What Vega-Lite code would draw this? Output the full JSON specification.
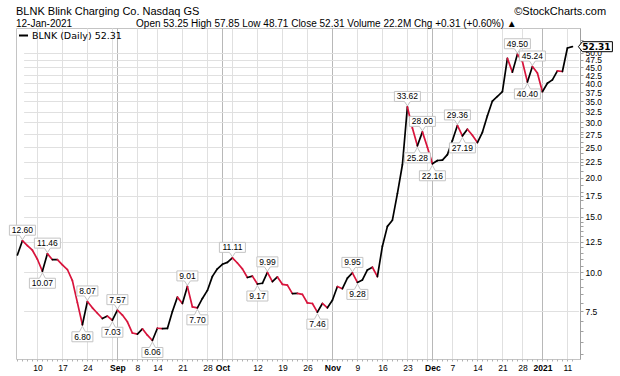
{
  "$schema": "https://vega.github.io/schema/vega-lite/v6.json",
  "autosize": "none",
  "width": 564,
  "height": 331,
  "padding": {"left": 16, "top": 28, "right": 40, "bottom": 17},
  "background": "white",
  "title": {
    "text": "BLNK Blink Charging Co. Nasdaq GS\u00a0\u00a0\u00a0\u00a0\u00a0\u00a0\u00a0\u00a0\u00a0\u00a0\u00a0\u00a0\u00a0\u00a0\u00a0\u00a0\u00a0\u00a0\u00a0\u00a0\u00a0\u00a0\u00a0\u00a0\u00a0\u00a0\u00a0\u00a0\u00a0\u00a0\u00a0\u00a0\u00a0\u00a0\u00a0\u00a0\u00a0\u00a0\u00a0\u00a0\u00a0\u00a0\u00a0\u00a0\u00a0\u00a0\u00a0\u00a0\u00a0\u00a0\u00a0\u00a0\u00a0\u00a0\u00a0\u00a0\u00a0\u00a0\u00a0\u00a0\u00a0\u00a0\u00a0\u00a0\u00a0\u00a0\u00a0\u00a0\u00a0\u00a0\u00a0\u00a0\u00a0\u00a0\u00a0\u00a0\u00a0\u00a0\u00a0\u00a0\u00a0\u00a0\u00a0\u00a0\u00a0\u00a0\u00a0\u00a0\u00a0\u00a0\u00a0\u00a0\u00a0\u00a0\u00a0\u00a0\u00a0\u00a0\u00a0\u00a0\u00a0\u00a0\u00a0©StockCharts.com",
    "subtitle": "12-Jan-2021\u00a0\u00a0\u00a0\u00a0\u00a0\u00a0\u00a0\u00a0\u00a0\u00a0\u00a0\u00a0\u00a0\u00a0\u00a0\u00a0\u00a0\u00a0\u00a0\u00a0\u00a0\u00a0\u00a0Open 53.25 High 57.85 Low 48.71 Close 52.31 Volume 22.2M Chg +0.31 (+0.60%) ▲",
    "anchor": "start",
    "frame": "group",
    "offset": 2,
    "dy": 3,
    "font": "Liberation Sans",
    "fontSize": 11,
    "fontWeight": "normal",
    "color": "black",
    "subtitleFont": "Liberation Sans",
    "subtitleFontSize": 10,
    "subtitleColor": "black",
    "subtitlePadding": 2
  },
  "data": {
    "values": [
      {"date": "2020-08-04", "close": 11.35},
      {"date": "2020-08-05", "close": 12.60, "pivot": "high"},
      {"date": "2020-08-06", "close": 12.15},
      {"date": "2020-08-07", "close": 11.75},
      {"date": "2020-08-10", "close": 11.00},
      {"date": "2020-08-11", "close": 10.07, "pivot": "low"},
      {"date": "2020-08-12", "close": 11.46, "pivot": "high"},
      {"date": "2020-08-13", "close": 10.96},
      {"date": "2020-08-14", "close": 10.97},
      {"date": "2020-08-17", "close": 10.55},
      {"date": "2020-08-18", "close": 10.20},
      {"date": "2020-08-19", "close": 9.40},
      {"date": "2020-08-20", "close": 8.00},
      {"date": "2020-08-21", "close": 6.80, "pivot": "low"},
      {"date": "2020-08-24", "close": 8.07, "pivot": "high"},
      {"date": "2020-08-25", "close": 7.70},
      {"date": "2020-08-26", "close": 7.40},
      {"date": "2020-08-27", "close": 7.12},
      {"date": "2020-08-28", "close": 7.25},
      {"date": "2020-08-31", "close": 7.03, "pivot": "low"},
      {"date": "2020-09-01", "close": 7.57, "pivot": "high"},
      {"date": "2020-09-02", "close": 7.30},
      {"date": "2020-09-03", "close": 6.95},
      {"date": "2020-09-04", "close": 6.40},
      {"date": "2020-09-08", "close": 6.35},
      {"date": "2020-09-09", "close": 6.60},
      {"date": "2020-09-10", "close": 6.30},
      {"date": "2020-09-11", "close": 6.06, "pivot": "low"},
      {"date": "2020-09-14", "close": 6.63},
      {"date": "2020-09-15", "close": 6.61},
      {"date": "2020-09-16", "close": 6.62},
      {"date": "2020-09-17", "close": 7.50},
      {"date": "2020-09-18", "close": 8.33},
      {"date": "2020-09-21", "close": 7.95},
      {"date": "2020-09-22", "close": 9.01, "pivot": "high"},
      {"date": "2020-09-23", "close": 7.75},
      {"date": "2020-09-24", "close": 7.70, "pivot": "low"},
      {"date": "2020-09-25", "close": 8.25},
      {"date": "2020-09-28", "close": 8.75},
      {"date": "2020-09-29", "close": 9.70},
      {"date": "2020-09-30", "close": 10.25},
      {"date": "2020-10-01", "close": 10.60},
      {"date": "2020-10-02", "close": 10.75},
      {"date": "2020-10-05", "close": 11.11, "pivot": "high"},
      {"date": "2020-10-06", "close": 10.70},
      {"date": "2020-10-07", "close": 10.25},
      {"date": "2020-10-08", "close": 9.62},
      {"date": "2020-10-09", "close": 9.72},
      {"date": "2020-10-12", "close": 9.17, "pivot": "low"},
      {"date": "2020-10-13", "close": 9.22},
      {"date": "2020-10-14", "close": 9.99, "pivot": "high"},
      {"date": "2020-10-15", "close": 9.33},
      {"date": "2020-10-16", "close": 9.66},
      {"date": "2020-10-19", "close": 9.15},
      {"date": "2020-10-20", "close": 9.10},
      {"date": "2020-10-21", "close": 8.55},
      {"date": "2020-10-22", "close": 8.56},
      {"date": "2020-10-23", "close": 8.50},
      {"date": "2020-10-26", "close": 7.98},
      {"date": "2020-10-27", "close": 7.95},
      {"date": "2020-10-28", "close": 7.46, "pivot": "low"},
      {"date": "2020-10-29", "close": 7.95},
      {"date": "2020-10-30", "close": 7.70},
      {"date": "2020-11-02", "close": 8.14},
      {"date": "2020-11-03", "close": 9.00},
      {"date": "2020-11-04", "close": 8.86},
      {"date": "2020-11-05", "close": 9.57},
      {"date": "2020-11-06", "close": 9.95, "pivot": "high"},
      {"date": "2020-11-09", "close": 9.28, "pivot": "low"},
      {"date": "2020-11-10", "close": 9.45},
      {"date": "2020-11-11", "close": 10.17},
      {"date": "2020-11-12", "close": 10.37},
      {"date": "2020-11-13", "close": 9.68},
      {"date": "2020-11-16", "close": 12.10},
      {"date": "2020-11-17", "close": 14.00},
      {"date": "2020-11-18", "close": 14.65},
      {"date": "2020-11-19", "close": 17.80},
      {"date": "2020-11-20", "close": 22.00},
      {"date": "2020-11-23", "close": 33.62, "pivot": "high"},
      {"date": "2020-11-24", "close": 28.80},
      {"date": "2020-11-25", "close": 25.28, "pivot": "low"},
      {"date": "2020-11-27", "close": 28.00, "pivot": "high"},
      {"date": "2020-11-30", "close": 25.00},
      {"date": "2020-12-01", "close": 22.16, "pivot": "low"},
      {"date": "2020-12-02", "close": 22.70},
      {"date": "2020-12-03", "close": 22.75},
      {"date": "2020-12-04", "close": 23.70},
      {"date": "2020-12-07", "close": 26.30},
      {"date": "2020-12-08", "close": 29.36, "pivot": "high"},
      {"date": "2020-12-09", "close": 27.19, "pivot": "low"},
      {"date": "2020-12-10", "close": 28.55},
      {"date": "2020-12-11", "close": 27.30},
      {"date": "2020-12-14", "close": 25.90},
      {"date": "2020-12-15", "close": 27.90},
      {"date": "2020-12-16", "close": 31.50},
      {"date": "2020-12-17", "close": 35.10},
      {"date": "2020-12-18", "close": 36.30},
      {"date": "2020-12-21", "close": 37.60},
      {"date": "2020-12-22", "close": 48.00},
      {"date": "2020-12-23", "close": 43.40},
      {"date": "2020-12-24", "close": 49.50, "pivot": "high"},
      {"date": "2020-12-28", "close": 46.90},
      {"date": "2020-12-29", "close": 40.40, "pivot": "low"},
      {"date": "2020-12-30", "close": 45.24, "pivot": "high"},
      {"date": "2020-12-31", "close": 43.10},
      {"date": "2021-01-04", "close": 37.60},
      {"date": "2021-01-05", "close": 40.00},
      {"date": "2021-01-06", "close": 41.00},
      {"date": "2021-01-07", "close": 43.80},
      {"date": "2021-01-08", "close": 43.60},
      {"date": "2021-01-11", "close": 51.80},
      {"date": "2021-01-12", "close": 52.31}
    ]
  },
  "layer": [
    {
      "transform": [
        {"window": [{"op": "lead", "field": "date", "as": "nextDate"}, {"op": "lead", "field": "close", "as": "nextClose"}], "sort": [{"field": "date", "order": "ascending"}]},
        {"filter": "datum.nextDate != null"}
      ],
      "mark": {"type": "rule", "strokeWidth": 1.7, "strokeCap": "round"},
      "encoding": {
        "x": {
          "field": "date",
          "type": "ordinal",
          "sort": "ascending",
          "scale": {"type": "point", "range": [1.4, 556.4], "padding": 0},
          "axis": {
            "title": null,
            "domain": false,
            "ticks": true,
            "tickSize": 2,
            "tickColor": "#b0b0b0",
            "labelFont": "Liberation Sans",
            "labelFontSize": 8.5,
            "labelColor": "black",
            "labelPadding": 2,
            "labelAngle": 0,
            "labelOverlap": false,
            "labelBound": false,
            "labelFontWeight": {"condition": {"test": "indexof(['2020-09-01','2020-10-01','2020-11-02','2020-12-01','2021-01-04'], datum.value) >= 0", "value": "bold"}, "value": "normal"},
            "labelExpr": "datum.value=='2020-09-01'?'Sep':datum.value=='2020-10-01'?'Oct':datum.value=='2020-11-02'?'Nov':datum.value=='2020-12-01'?'Dec':datum.value=='2021-01-04'?'2021':indexof(['2020-08-10','2020-08-17','2020-08-24','2020-09-08','2020-09-14','2020-09-21','2020-09-28','2020-10-12','2020-10-19','2020-10-26','2020-11-09','2020-11-16','2020-11-23','2020-12-07','2020-12-14','2020-12-21','2020-12-28','2021-01-11'], datum.value)>=0?''+toNumber(substring(datum.value,8,10)):''",
            "grid": true,
            "gridColor": {"condition": {"test": "indexof(['2020-09-01','2020-10-01','2020-11-02','2020-12-01','2021-01-04'], datum.value) >= 0", "value": "#b8b8b8"}, "value": "#e0e0e0"},
            "gridOpacity": {"condition": {"test": "indexof(['2020-08-10','2020-08-17','2020-08-24','2020-08-31','2020-09-01','2020-09-08','2020-09-14','2020-09-21','2020-09-28','2020-10-01','2020-10-05','2020-10-12','2020-10-19','2020-10-26','2020-11-02','2020-11-09','2020-11-16','2020-11-23','2020-11-30','2020-12-01','2020-12-07','2020-12-14','2020-12-21','2020-12-28','2021-01-04','2021-01-11'], datum.value) < 0", "value": 0}, "value": 1}
          }
        },
        "x2": {"field": "nextDate"},
        "y": {
          "field": "close",
          "type": "quantitative",
          "scale": {"type": "log", "domain": [5.29, 60], "nice": false, "zero": false},
          "axis": {
            "orient": "right",
            "title": null,
            "values": [5.5, 6, 6.5, 7, 7.5, 8, 8.5, 9, 9.5, 10, 10.5, 11, 11.5, 12, 12.5, 13, 13.5, 14, 14.5, 15, 16, 17, 17.5, 18, 19, 20, 21, 22, 22.5, 23, 24, 25, 26, 27, 27.5, 28, 29, 30, 32.5, 35, 37.5, 40, 42.5, 45, 47.5, 50, 55],
            "labelExpr": "(datum.value >= 7.4 && datum.value <= 50.1 && abs(datum.value/2.5 - round(datum.value/2.5)) < 0.001) ? format(datum.value, '.1f') : ''",
            "labelFont": "Liberation Sans",
            "labelFontSize": 8.5,
            "labelColor": "black",
            "labelPadding": 2,
            "labelOverlap": false,
            "labelBound": false,
            "tickSize": 3,
            "tickColor": "#a0a0a0",
            "domainColor": "#a0a0a0",
            "grid": true,
            "gridColor": "#e0e0e0",
            "gridOpacity": {"condition": {"test": "(datum.value >= 7.4 && datum.value <= 50.1 && abs(datum.value/2.5 - round(datum.value/2.5)) < 0.001)", "value": 1}, "value": 0}
          }
        },
        "y2": {"field": "nextClose"},
        "color": {
          "condition": {"test": "datum.nextClose < datum.close", "value": "#d8143c"},
          "datum": "BLNK (Daily) 52.31",
          "scale": {"range": ["#000000"]},
          "legend": {
            "title": null,
            "orient": "top-left",
            "offset": 2,
            "padding": 0,
            "symbolType": "stroke",
            "symbolSize": 81,
            "symbolStrokeWidth": 2,
            "labelFont": "DejaVu Sans",
            "labelFontSize": 9.5,
            "labelColor": "black",
            "labelOffset": 3
          }
        }
      }
    },
    {
      "transform": [{"filter": "datum.pivot == 'high'"}],
      "mark": {"type": "point", "filled": true, "fill": "white", "stroke": "#c4c4c4", "strokeWidth": 1, "size": 4, "opacity": 1},
      "encoding": {
        "x": {"field": "date", "type": "ordinal"},
        "y": {"field": "close", "type": "quantitative"},
        "shape": {"condition": {"test": "datum.close < 10", "value": "M-10.5,-15.5H10.5V-5.5H3L0,-1L-3,-5.5H-10.5Z"}, "value": "M-13,-15.5H13V-5.5H3L0,-1L-3,-5.5H-13Z"}
      }
    },
    {
      "transform": [{"filter": "datum.pivot == 'high'"}],
      "mark": {"type": "text", "font": "Liberation Sans", "fontSize": 8.5, "color": "black", "dy": -10.5, "baseline": "middle", "align": "center"},
      "encoding": {
        "x": {"field": "date", "type": "ordinal"},
        "y": {"field": "close", "type": "quantitative"},
        "text": {"field": "close", "type": "quantitative", "format": ".2f"}
      }
    },
    {
      "transform": [{"filter": "datum.pivot == 'low'"}],
      "mark": {"type": "point", "filled": true, "fill": "white", "stroke": "#c4c4c4", "strokeWidth": 1, "size": 4, "opacity": 1},
      "encoding": {
        "x": {"field": "date", "type": "ordinal"},
        "y": {"field": "close", "type": "quantitative"},
        "shape": {"condition": {"test": "datum.close < 10", "value": "M-10.5,17H10.5V7H3L0,1.5L-3,7H-10.5Z"}, "value": "M-13,17H13V7H3L0,1.5L-3,7H-13Z"}
      }
    },
    {
      "transform": [{"filter": "datum.pivot == 'low'"}],
      "mark": {"type": "text", "font": "Liberation Sans", "fontSize": 8.5, "color": "black", "dy": 12, "baseline": "middle", "align": "center"},
      "encoding": {
        "x": {"field": "date", "type": "ordinal"},
        "y": {"field": "close", "type": "quantitative"},
        "text": {"field": "close", "type": "quantitative", "format": ".2f"}
      }
    },
    {
      "transform": [{"filter": "datum.date == '2021-01-12'"}],
      "mark": {"type": "point", "filled": true, "fill": "white", "stroke": "black", "strokeWidth": 1, "size": 4, "opacity": 1, "shape": "M6,0L10,-5H40V5H10Z"},
      "encoding": {
        "x": {"field": "date", "type": "ordinal"},
        "y": {"field": "close", "type": "quantitative"}
      }
    },
    {
      "transform": [{"filter": "datum.date == '2021-01-12'"}],
      "mark": {"type": "text", "font": "DejaVu Sans", "fontSize": 9, "fontWeight": "bold", "color": "black", "dx": 24, "baseline": "middle", "align": "center"},
      "encoding": {
        "x": {"field": "date", "type": "ordinal"},
        "y": {"field": "close", "type": "quantitative"},
        "text": {"field": "close", "type": "quantitative", "format": ".2f"}
      }
    }
  ],
  "config": {
    "view": {"stroke": "#c4c4c4"},
    "axis": {"gridWidth": 1}
  }
}
